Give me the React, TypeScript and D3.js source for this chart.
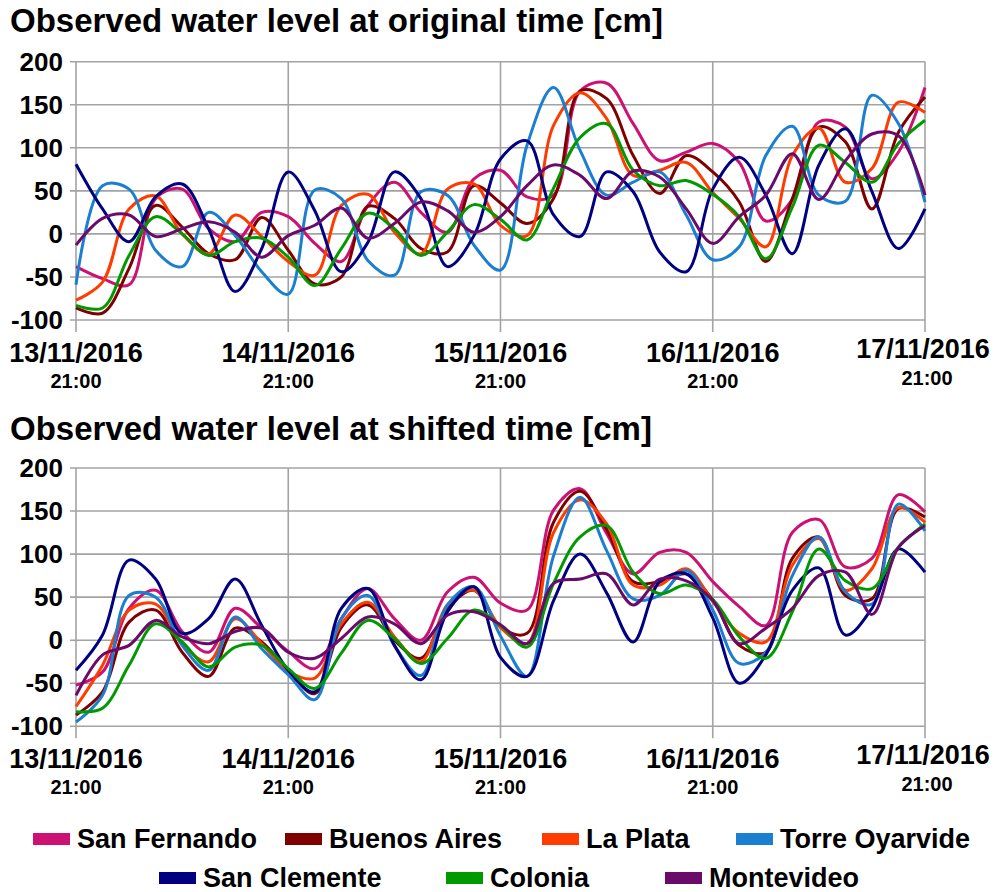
import React, { useEffect, useRef } from "react";
import * as d3 from "d3";

// hours after 13/11/2016 21:00, one reading every 3 h
const hours = [0, 3, 6, 9, 12, 15, 18, 21, 24, 27, 30, 33, 36, 39, 42, 45, 48,
  51, 54, 57, 60, 63, 66, 69, 72, 75, 78, 81, 84, 87, 90, 93, 96];
const dayHours = [0, 24, 48, 72, 96];
const dayLabels = ["13/11/2016", "14/11/2016", "15/11/2016", "16/11/2016", "17/11/2016"];
const timeLabel = "21:00";
const yTicks = [-100, -50, 0, 50, 100, 150, 200];

const stations = ["San Fernando", "Buenos Aires", "La Plata", "Torre Oyarvide",
  "San Clemente", "Colonia", "Montevideo"];
const colors = ["#cc1173", "#800000", "#ff3c00", "#1a7fd0", "#000080", "#009a00", "#6a0a6a"];

// original time [cm]
const origSanFernando = [-38, -52, -59, 41, 52, 6, -9, 25, 20, -11, -32, 33, 60, 25, 2, 64, 74,
  43, 45, 166, 175, 128, 85, 95, 105, 83, 15, 40, 130, 124, 64, 95, 170];
const origBuenosAires = [-86, -92, -40, 33, 8, -23, -30, 19, -19, -58, -50, 32, 18, -17, -21, 56, 36,
  12, 41, 166, 157, 91, 47, 91, 72, 37, -32, 41, 124, 107, 29, 118, 159];
const origLaPlata = [-77, -56, 29, 44, 0, -23, 22, -3, -32, -48, 33, 46, 2, -23, 52, 58, 10,
  -2, 126, 164, 134, 68, 74, 83, 48, 18, -15, 91, 123, 60, 76, 153, 141];
const origTorreOyarvide = [-59, 56, 52, -19, -38, 25, -2, -44, -70, 51, 41, -31, -48, 49, 45, -13, -42,
  103, 170, 97, 45, 60, 72, 22, -30, -15, 91, 125, 45, 38, 161, 128, 37];
const origSanClemente = [81, 29, -9, 43, 58, 6, -67, -17, 72, 27, -44, -10, 72, 41, -38, -2, 87,
  108, 22, -3, 72, 49, -21, -44, 52, 89, 45, -23, 80, 122, 49, -17, 29];
const origColonia = [-83, -86, -25, 20, 0, -25, -9, -5, -27, -60, -17, 24, 6, -25, 2, 34, 17,
  -7, 53, 112, 128, 74, 56, 62, 46, 20, -29, 31, 103, 83, 60, 105, 132];
const origMontevideo = [-13, 18, 22, -3, 6, 14, 2, -27, -2, 10, 30, -5, 12, 37, 27, 2, 20,
  56, 80, 68, 41, 73, 66, 29, -11, 20, 45, 93, 40, 85, 116, 114, 45];

// shifted time [cm]
const shiftSanFernando = [-52, -37, 37, 58, 10, -14, 37, 14, -13, -33, 25, 60, 25, 0, 56, 73, 43,
  35, 151, 176, 124, 77, 102, 102, 68, 39, 17, 125, 140, 85, 95, 169, 149];
const shiftBuenosAires = [-87, -60, 21, 35, -14, -42, 14, -2, -35, -62, 15, 41, 0, -21, 37, 58, 15,
  8, 137, 173, 129, 68, 68, 77, 47, -6, -14, 95, 120, 52, 48, 153, 143];
const shiftLaPlata = [-77, -29, 35, 42, -4, -25, 25, -4, -36, -44, 19, 44, 4, -25, 41, 58, 15,
  -4, 125, 163, 135, 64, 64, 83, 45, 8, -2, 87, 118, 58, 83, 154, 137];
const shiftTorreOyarvide = [-95, -64, 52, 50, -6, -35, 27, -10, -40, -69, 25, 52, -6, -41, 41, 62, 5,
  -42, 98, 166, 104, 48, 52, 81, 35, -27, -14, 75, 120, 56, 42, 158, 127];
const shiftSanClemente = [-35, 6, 93, 71, 8, 25, 71, 17, -35, -60, 37, 60, -6, -46, 33, 62, -20,
  -42, 46, 100, 55, -2, 68, 77, 26, -50, -17, 58, 84, 6, 37, 106, 79];
const shiftColonia = [-83, -79, -29, 19, -2, -31, -8, -6, -33, -56, -15, 23, 2, -27, 2, 35, 17,
  -8, 66, 120, 133, 79, 54, 64, 47, 4, -21, 33, 106, 69, 60, 108, 135];
const shiftMontevideo = [-64, -17, -6, 23, 4, -4, 10, 14, -14, -21, 2, 27, 19, -4, 29, 33, 18,
  -4, 66, 71, 77, 41, 71, 69, 46, -4, 14, 37, 75, 79, 30, 108, 133];

const panels = [
  {
    title: "Observed water level at original time [cm]",
    titleY: 32,
    top: 61.7,
    bottom: 320,
    series: [origSanFernando, origBuenosAires, origLaPlata, origTorreOyarvide,
      origSanClemente, origColonia, origMontevideo],
  },
  {
    title: "Observed water level at shifted time [cm]",
    titleY: 440,
    top: 468,
    bottom: 726.3,
    series: [shiftSanFernando, shiftBuenosAires, shiftLaPlata, shiftTorreOyarvide,
      shiftSanClemente, shiftColonia, shiftMontevideo],
  },
];

const legendPos = [
  { x: 33, y: 839 }, { x: 285, y: 839 }, { x: 542, y: 839 }, { x: 736, y: 839 },
  { x: 159, y: 878 }, { x: 446, y: 878 }, { x: 665, y: 878 },
];

const font = "'Liberation Sans', Arial, sans-serif";
const gridColor = "#a3a3a3";

const App = () => {
  const ref = useRef(null);

  useEffect(() => {
    const svg = d3.select(ref.current);
    svg.selectAll("*").remove();

    const x = d3.scaleLinear().domain([0, 96]).range([76, 925]);

    panels.forEach((p) => {
      const y = d3.scaleLinear().domain([-100, 200]).range([p.bottom, p.top]);
      const g = svg.append("g");

      g.append("text")
        .attr("x", 10)
        .attr("y", p.titleY)
        .attr("font-size", 33)
        .attr("font-weight", "bold")
        .text(p.title);

      // horizontal grid
      g.selectAll(".hg")
        .data(yTicks)
        .join("line")
        .attr("x1", 70)
        .attr("x2", x(96))
        .attr("y1", (d) => y(d))
        .attr("y2", (d) => y(d))
        .attr("stroke", gridColor)
        .attr("stroke-width", 1.6);

      // vertical grid
      g.selectAll(".vg")
        .data(dayHours)
        .join("line")
        .attr("x1", (d) => x(d))
        .attr("x2", (d) => x(d))
        .attr("y1", y(200))
        .attr("y2", y(-100) + 12)
        .attr("stroke", gridColor)
        .attr("stroke-width", 1.6);

      g.selectAll(".yl")
        .data(yTicks)
        .join("text")
        .attr("x", 63)
        .attr("y", (d) => y(d) + 9)
        .attr("text-anchor", "end")
        .attr("font-size", 26)
        .attr("font-weight", "bold")
        .text((d) => d);

      const last = dayHours.length - 1;
      g.selectAll(".xl")
        .data(dayHours)
        .join("text")
        .attr("x", (d, i) => (i === last ? x(d) - 2 : x(d)))
        .attr("y", (d, i) => y(-100) + (i === last ? 38 : 42))
        .attr("text-anchor", "middle")
        .attr("font-size", 27)
        .attr("font-weight", "bold")
        .text((d, i) => dayLabels[i]);

      g.selectAll(".tl")
        .data(dayHours)
        .join("text")
        .attr("x", (d, i) => (i === last ? x(d) + 2 : x(d)))
        .attr("y", (d, i) => y(-100) + (i === last ? 65 : 68))
        .attr("text-anchor", "middle")
        .attr("font-size", 20)
        .attr("font-weight", "bold")
        .text(timeLabel);

      const line = d3
        .line()
        .x((d, i) => x(hours[i]))
        .y((d) => y(d))
        .curve(d3.curveCatmullRom.alpha(0.5));

      p.series.forEach((s, k) => {
        g.append("path")
          .datum(s)
          .attr("fill", "none")
          .attr("stroke", colors[k])
          .attr("stroke-width", 3)
          .attr("stroke-linejoin", "round")
          .attr("d", line);
      });
    });

    // legend
    const lg = svg.append("g");
    stations.forEach((name, i) => {
      const pos = legendPos[i];
      lg.append("rect")
        .attr("x", pos.x)
        .attr("y", pos.y - 6)
        .attr("width", 37)
        .attr("height", 12)
        .attr("fill", colors[i]);
      lg.append("text")
        .attr("x", pos.x + 44)
        .attr("y", pos.y + 9)
        .attr("font-size", 27)
        .attr("font-weight", "bold")
        .text(name);
    });
  }, []);

  return (
    <svg
      ref={ref}
      width={996}
      height={892}
      style={{ position: "absolute", left: 0, top: 0, background: "#fff", fontFamily: font }}
    />
  );
};

export default App;
